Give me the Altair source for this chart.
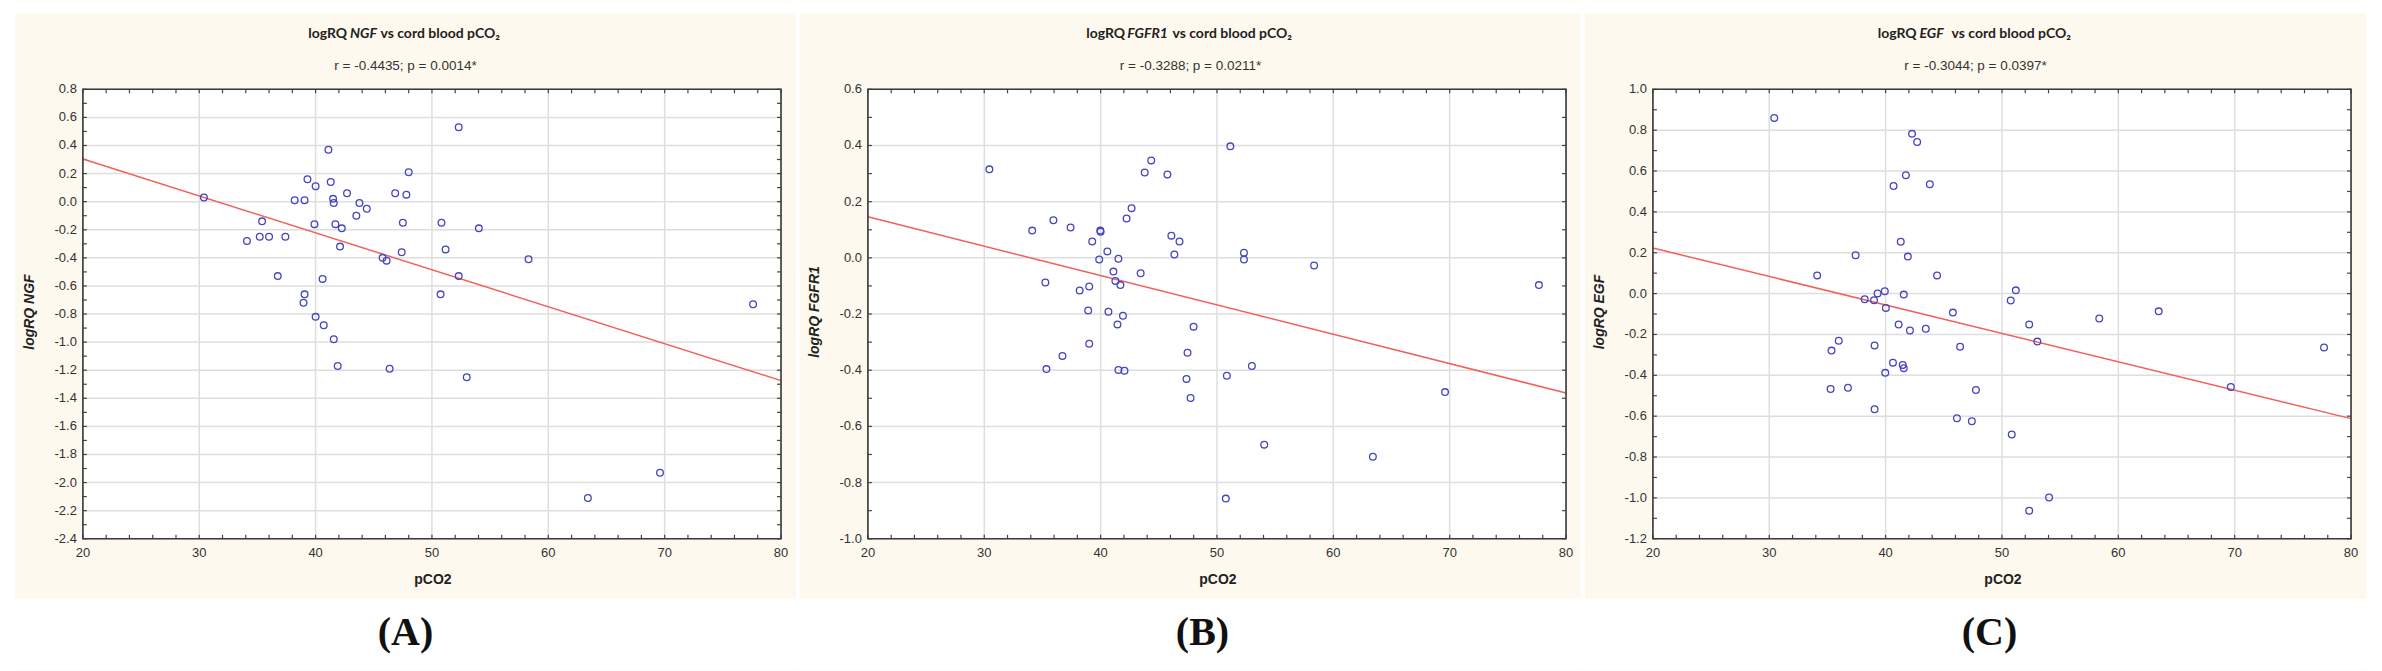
import altair as alt
import pandas as pd
import numpy as np

# ---------------- data ----------------
pco2_A = [30.4, 34.1, 35.4, 35.2, 36.0, 37.4, 36.75, 38.2, 39.05, 39.3, 40.0, 39.9, 39.05, 38.96, 40.0,
          40.6, 40.7, 41.1, 41.3, 41.5, 41.56, 41.7, 42.25, 42.1, 41.56, 41.9, 42.7, 43.77, 44.4, 43.5,
          45.76, 46.1, 46.36, 46.84, 47.8, 47.5, 47.4, 48.0, 50.82, 51.17, 50.74, 52.3, 52.3, 52.99,
          54.03, 58.3, 63.4, 69.6, 77.6]
ngf = [0.03, -0.28, -0.14, -0.25, -0.25, -0.25, -0.53, 0.01, 0.01, 0.16, 0.11, -0.16, -0.66, -0.72, -0.82,
       -0.55, -0.88, 0.37, 0.14, 0.02, -0.01, -0.16, -0.19, -0.32, -0.98, -1.17, 0.06, -0.01, -0.05, -0.10,
       -0.40, -0.42, -1.19, 0.06, 0.05, -0.15, -0.36, 0.21, -0.15, -0.34, -0.66, 0.53, -0.53, -1.25,
       -0.19, -0.41, -2.11, -1.93, -0.73]

pco2_B = [30.44, 34.12, 35.94, 37.42, 35.25, 35.34, 36.72, 38.2, 39.02, 39.28, 39.97, 40.0, 39.88, 38.93,
          39.02, 40.58, 40.67, 41.1, 41.27, 41.53, 41.7, 41.92, 41.45, 41.53, 42.05, 42.23, 42.66, 43.44,
          43.79, 44.35, 45.74, 46.08, 46.78, 46.34, 47.47, 47.38, 47.73, 47.99, 51.15, 50.85, 50.76,
          52.32, 52.32, 53.0, 54.06, 58.35, 63.4, 69.6, 77.67]
fgfr1 = [0.315, 0.097, 0.134, 0.108, -0.088, -0.396, -0.349, -0.116, -0.102, 0.058, 0.097, 0.093, -0.006,
         -0.187, -0.306, 0.023, -0.192, -0.049, -0.082, -0.003, -0.097, -0.206, -0.237, -0.399, -0.402,
         0.14, 0.177, -0.055, 0.304, 0.347, 0.297, 0.079, 0.058, 0.012, -0.338, -0.431, -0.499, -0.245,
         0.397, -0.42, -0.857, 0.018, -0.006, -0.385, -0.665, -0.027, -0.708, -0.478, -0.097]

pco2_C = [30.43, 34.12, 35.35, 35.27, 35.97, 36.76, 37.42, 38.2, 39.0, 39.31, 39.05, 39.05, 39.93, 40.02,
          39.97, 40.68, 40.63, 41.3, 41.12, 41.56, 41.47, 41.56, 41.74, 41.91, 42.09, 42.27, 42.71, 43.45,
          43.8, 44.42, 45.78, 46.13, 46.4, 47.41, 47.76, 50.75, 51.19, 50.84, 52.34, 53.04, 52.34, 54.05,
          58.36, 63.47, 69.67, 77.68]
egf = [0.86, 0.089, -0.279, -0.467, -0.231, -0.461, 0.188, -0.028, -0.032, 0.001, -0.254, -0.566, 0.012,
       -0.07, -0.388, 0.527, -0.338, 0.254, -0.151, -0.005, -0.349, -0.365, 0.579, 0.181, -0.181, 0.782,
       0.742, -0.172, 0.535, 0.089, -0.093, -0.61, -0.26, -0.625, -0.472, -0.034, 0.016, -0.69, -0.151,
       -0.235, -1.063, -0.998, -0.122, -0.087, -0.457, -0.264]

# regression lines (end values at pCO2 = 20 and 80)
fit_x = [20, 80]
fit_A = [0.304, -1.274]
fit_B = [0.146, -0.481]
fit_C = [0.223, -0.612]

x_major = [20, 30, 40, 50, 60, 70, 80]
x_minor = [20, 22, 24, 26, 28, 30, 32, 34, 36, 38, 40, 42, 44, 46, 48, 50,
           52, 54, 56, 58, 60, 62, 64, 66, 68, 70, 72, 74, 76, 78, 80]

stats = ["r = -0.4435; p = 0.0014*", "r = -0.3288; p = 0.0211*", "r = -0.3044; p = 0.0397*"]
genes = ["NGF", "FGFR1", "EGF"]
letters = ["(A)", "(B)", "(C)"]
x_title = "pCO2"

# ---------------- style ----------------
W, H = 699, 450
BEIGE = "#fdf9ee"
GRID = "#dedede"
FRAME = "#3a3a3a"
PT = "#4545c0"
LINE = "#f0605e"
TICK_COLOR = "#444444"
LABEL_FONT = "Liberation Sans"


def yticks(lo, hi, step):
    n = int(round((hi - lo) / step))
    return [round(lo + i * step, 2) + 0.0 for i in range(n + 1)]


def white_box(x1, x2, y1, y2):
    return alt.Chart(alt.Data(values=[{"a": 1}])).mark_rect(fill="white").encode(
        x=alt.value(x1), x2=alt.value(x2), y=alt.value(y1), y2=alt.value(y2))


def panel(xs, ys, fit_y, ymin, ymax, gene, stat, letter, tpos, letter_x, left_margin, right_margin):
    one = alt.Data(values=[{"a": 1}])
    xscale = alt.Scale(domain=[20, 80], nice=False, zero=False)
    yscale = alt.Scale(domain=[ymin, ymax], nice=False, zero=False)
    y_major = yticks(ymin, ymax, 0.2)
    y_minor = yticks(ymin, ymax, 0.1)

    X = lambda: alt.X("x:Q", scale=xscale, axis=None)
    Y = lambda: alt.Y("y:Q", scale=yscale, axis=None)

    # white page areas around the beige panel (page background is beige)
    strips = [
        white_box(-68 - left_margin, 714 + right_margin, -89, -76),   # top
        white_box(-68 - left_margin, 714 + right_margin, 510, 582),   # bottom
        white_box(-68 - left_margin, -68, -89, 582),                   # left gap
    ]
    if right_margin > 0:
        strips.append(white_box(714, 714 + right_margin, -89, 582))

    plot_bg = white_box(0, W, 0, H)

    gv = alt.Chart(pd.DataFrame({"x": x_major})).mark_rule(color=GRID, strokeWidth=1.5).encode(
        x=X(), y=alt.value(0), y2=alt.value(H))
    gh = alt.Chart(pd.DataFrame({"y": y_major})).mark_rule(color=GRID, strokeWidth=1.5).encode(
        y=Y(), x=alt.value(0), x2=alt.value(W))

    xt = pd.DataFrame({"x": x_minor})
    yt = pd.DataFrame({"y": y_minor})
    tb = alt.Chart(xt).mark_rule(color=TICK_COLOR, strokeWidth=1.2).encode(
        x=X(), y=alt.value(H - 4), y2=alt.value(H))
    tt = alt.Chart(xt).mark_rule(color=TICK_COLOR, strokeWidth=1.2).encode(
        x=X(), y=alt.value(0), y2=alt.value(4))
    tl = alt.Chart(yt).mark_rule(color=TICK_COLOR, strokeWidth=1.2).encode(
        y=Y(), x=alt.value(0), x2=alt.value(4))
    tr = alt.Chart(yt).mark_rule(color=TICK_COLOR, strokeWidth=1.2).encode(
        y=Y(), x=alt.value(W - 4), x2=alt.value(W))

    # tick labels (drawn through the scales)
    xl = alt.Chart(pd.DataFrame({"x": x_major, "t": [str(v) for v in x_major]})).mark_text(
        font=LABEL_FONT, fontSize=13, color="#333333", align="center", baseline="top").encode(
        x=X(), y=alt.value(H + 8), text="t:N")
    yl = alt.Chart(pd.DataFrame({"y": y_major, "t": ["%.1f" % v for v in y_major]})).mark_text(
        font=LABEL_FONT, fontSize=13, color="#333333", align="right", baseline="middle").encode(
        y=Y(), x=alt.value(-6), text="t:N")
    xtitle = alt.Chart(one).mark_text(text=x_title, font=LABEL_FONT, fontSize=14, fontWeight="bold",
                                      color="#222222", align="center", baseline="middle").encode(
        x=alt.value(W / 2 + 1), y=alt.value(H + 41))
    ytitle = alt.Chart(one).mark_text(text="logRQ " + gene, font=LABEL_FONT, fontSize=14,
                                      fontWeight="bold", fontStyle="italic", angle=270,
                                      color="#222222", align="center", baseline="middle").encode(
        x=alt.value(-53), y=alt.value(H / 2 - 2))

    fit = alt.Chart(pd.DataFrame({"x": fit_x, "y": fit_y})).mark_line(
        color=LINE, strokeWidth=1.5).encode(x=X(), y=Y())

    pts = alt.Chart(pd.DataFrame({"x": xs, "y": ys})).mark_point(
        shape="circle", filled=False, size=45, strokeWidth=1.3, color=PT, opacity=1).encode(
        x=X(), y=Y())

    frame = alt.Chart(one).mark_rect(fill="white", fillOpacity=0, stroke=FRAME, strokeWidth=1.6).encode(
        x=alt.value(0), x2=alt.value(W), y=alt.value(0), y2=alt.value(H))

    left_end, ital_c, right_start = tpos
    t1 = alt.Chart(one).mark_text(text="logRQ", font="Lato", fontSize=14, fontWeight="bold",
                                  align="right", baseline="middle", color="#222222").encode(
        x=alt.value(left_end), y=alt.value(-55))
    t2 = alt.Chart(one).mark_text(text=gene, font="Lato", fontSize=14, fontWeight="bold",
                                  fontStyle="italic", align="center", baseline="middle",
                                  color="#222222").encode(
        x=alt.value(ital_c), y=alt.value(-55))
    t3 = alt.Chart(one).mark_text(text="vs cord blood pCO\u2082", font="Lato", fontSize=14,
                                  fontWeight="bold", align="left", baseline="middle",
                                  color="#222222").encode(
        x=alt.value(right_start), y=alt.value(-55))
    st = alt.Chart(one).mark_text(text=stat, font=LABEL_FONT, fontSize=13.5, align="center",
                                  baseline="middle", color="#333333").encode(
        x=alt.value(323), y=alt.value(-23))
    lab = alt.Chart(one).mark_text(text=letter, font="Liberation Serif", fontSize=40,
                                   fontWeight="bold", align="center", baseline="middle",
                                   color="#111111").encode(
        x=alt.value(letter_x), y=alt.value(544))

    layers = strips + [plot_bg, gv, gh, tb, tt, tl, tr, fit, pts, frame,
                       xl, yl, xtitle, ytitle, t1, t2, t3, st, lab]
    return alt.layer(*layers).properties(width=W, height=H)


pA = panel(pco2_A, ngf, fit_A, -2.4, 0.8, genes[0], stats[0], letters[0], (264.5, 281, 298), 323, 15, 0)
pB = panel(pco2_B, fgfr1, fit_B, -1.0, 0.6, genes[1], stats[1], letters[1], (257.5, 280, 305), 335, 4, 0)
pC = panel(pco2_C, egf, fit_C, -1.2, 1.0, genes[2], stats[2], letters[2], (264, 279, 299), 337, 4, 16)

chart = alt.hconcat(pA, pB, pC, spacing=0).properties(
    padding=0,
    background=BEIGE,
).configure_view(strokeWidth=0)

chart.save("out.html", embed_options={"renderer": "svg", "actions": False})
